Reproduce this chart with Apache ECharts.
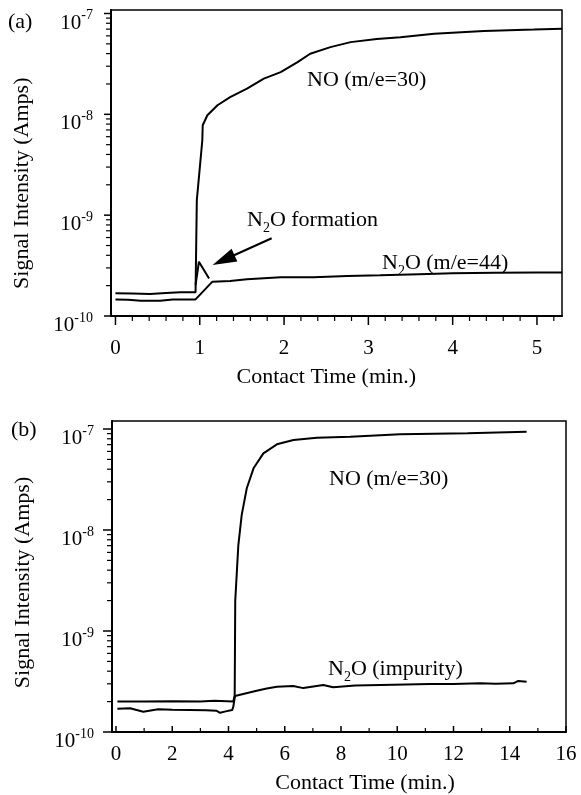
<!DOCTYPE html>
<html>
<head>
<meta charset="utf-8">
<script src="https://cdn.jsdelivr.net/npm/echarts@6/dist/echarts.min.js"></script>
<style>
html,body{margin:0;padding:0;background:#fff;}
#chart{width:581px;height:795px;}
</style>
</head>
<body>
<div id="chart"></div>
<script>
// ---------- Panel (a) data ----------
const timeA_NO = [0, 0.2, 0.41, 0.6, 0.77, 0.95, 0.965, 1.03, 1.035, 1.09, 1.21, 1.36, 1.56, 1.76, 1.96, 2.16, 2.31, 2.55, 2.79, 3.1, 3.38, 3.78, 4.37, 4.57, 4.96, 5.3];
const valA_NO  = [1.68e-10, 1.67e-10, 1.65e-10, 1.69e-10, 1.72e-10, 1.72e-10, 1.41e-9, 5.5e-9, 7.8e-9, 9.8e-9, 1.23e-8, 1.48e-8, 1.80e-8, 2.26e-8, 2.62e-8, 3.3e-8, 3.99e-8, 4.64e-8, 5.2e-8, 5.6e-8, 5.8e-8, 6.3e-8, 6.7e-8, 6.8e-8, 6.92e-8, 7.05e-8];

const timeA_N2O = [0, 0.15, 0.3, 0.53, 0.68, 0.95, 1.15, 1.36, 1.56, 1.96, 2.35, 2.75, 3.14, 3.6, 4.0, 4.5, 5.0, 5.3];
const valA_N2O  = [1.46e-10, 1.45e-10, 1.42e-10, 1.42e-10, 1.46e-10, 1.46e-10, 2.19e-10, 2.22e-10, 2.31e-10, 2.42e-10, 2.42e-10, 2.49e-10, 2.53e-10, 2.6e-10, 2.65e-10, 2.68e-10, 2.7e-10, 2.7e-10];

// N2O formation transient (spike)
const timeA_peak = [0.95, 0.99, 1.11];
const valA_peak  = [2.03e-10, 3.45e-10, 2.36e-10];

// arrow pointing to the N2O formation peak [tail, head]
const arrowA_time = [1.853, 1.282];
const arrowA_val  = [5.9e-10, 3.59e-10];

// ---------- Panel (b) data ----------
const timeB_NO = [0.05, 1, 2, 3, 3.5, 4.17, 4.22, 4.24, 4.35, 4.47, 4.65, 4.89, 5.24, 5.72, 6.31, 7.14, 8.33, 10.1, 12.5, 14.6];
const valB_NO  = [2.0e-10, 2.0e-10, 2.02e-10, 2.0e-10, 2.04e-10, 2.0e-10, 2.3e-10, 2.0e-9, 7.1e-9, 1.41e-8, 2.59e-8, 4.08e-8, 5.74e-8, 7.05e-8, 7.78e-8, 8.2e-8, 8.4e-8, 8.85e-8, 9.06e-8, 9.4e-8];

const timeB_N2O = [0.05, 0.5, 0.97, 1.5, 2, 2.63, 3.2, 3.58, 3.7, 3.9, 4.13, 4.17, 4.23, 4.29, 5.0, 5.36, 5.72, 6.3, 6.66, 7.37, 7.72, 8.5, 9.4, 10.3, 11.17, 12.0, 12.95, 13.5, 14.13, 14.3, 14.6];
const valB_N2O  = [1.70e-10, 1.72e-10, 1.59e-10, 1.68e-10, 1.66e-10, 1.65e-10, 1.64e-10, 1.62e-10, 1.55e-10, 1.6e-10, 1.65e-10, 1.77e-10, 2.27e-10, 2.32e-10, 2.56e-10, 2.70e-10, 2.81e-10, 2.85e-10, 2.72e-10, 2.92e-10, 2.78e-10, 2.88e-10, 2.92e-10, 2.95e-10, 2.98e-10, 2.98e-10, 3.03e-10, 3.0e-10, 3.03e-10, 3.2e-10, 3.15e-10];

// ---------- Ticks ----------
const yDecadeMin = 1e-10, yDecadeMax = 1e-7;
const yMajorTicks = [1e-10, 1e-9, 1e-8, 1e-7];
const yMinorTicks = [2e-10,3e-10,4e-10,5e-10,6e-10,7e-10,8e-10,9e-10,
                     2e-9,3e-9,4e-9,5e-9,6e-9,7e-9,8e-9,9e-9,
                     2e-8,3e-8,4e-8,5e-8,6e-8,7e-8,8e-8,9e-8];
const xMajorA = [0, 1, 2, 3, 4, 5];
const xMinorA = [0.2,0.4,0.6,0.8,1.2,1.4,1.6,1.8,2.2,2.4,2.6,2.8,3.2,3.4,3.6,3.8,4.2,4.4,4.6,4.8,5.2];
const xMajorB = [0, 2, 4, 6, 8, 10, 12, 14, 16];
const xMinorB = [1, 3, 5, 7, 9, 11, 13, 15];
const xTickMaxA = 5, xIntervalA = 1;
const xTickMaxB = 16, xIntervalB = 2;

// axis extents of the data grids
const xMinA = -0.053, xMaxA = 5.297, yMaxA = 1.083e-7;
const xMinB = -0.142, xMaxB = 16,    yMaxB = 1.2e-7;

const FONT = '"Liberation Serif", "Times New Roman", serif';
const BLACK = '#000';

function zip(t, v) { return t.map((x, i) => [x, v[i]]); }

const supRich = {
  b: {fontSize: 21, fontFamily: FONT, color: BLACK, lineHeight: 25, verticalAlign: 'bottom'},
  s: {fontSize: 14, fontFamily: FONT, color: BLACK, lineHeight: 14, verticalAlign: 'top'}
};
function supFormatter(value) {
  const e = Math.round(Math.log10(value));
  return '{b|10}{s|' + e + '}';
}

// main (data) axes: lines only
function xMain(grid, min, max) {
  return {type: 'value', gridIndex: grid, min: min, max: max,
    axisLine: {show: true, onZero: false, lineStyle: {color: BLACK, width: 2}},
    axisTick: {show: false}, axisLabel: {show: false}, splitLine: {show: false}};
}
function yMain(grid, max) {
  return {type: 'log', gridIndex: grid, min: 1e-10, max: max,
    axisLine: {show: true, onZero: false, lineStyle: {color: BLACK, width: 2}},
    axisTick: {show: false}, axisLabel: {show: false}, splitLine: {show: false}};
}
function xHidden(grid) { return {type: 'value', gridIndex: grid, min: 0, max: 1, show: false}; }
function yHidden(grid) { return {type: 'log', gridIndex: grid, min: yDecadeMin, max: yDecadeMax, show: false}; }

// label/name axes
function xLabels(grid, max, interval, labelMargin, nameGap, namePad) {
  return {
    type: 'value', gridIndex: grid, min: 0, max: max, interval: interval,
    name: 'Contact Time (min.)', nameLocation: 'middle', nameGap: nameGap,
    nameTextStyle: {fontSize: 22, fontFamily: FONT, color: BLACK, padding: namePad},
    axisLine: {show: false}, axisTick: {show: false}, minorTick: {show: false},
    axisLabel: {fontSize: 21, fontFamily: FONT, color: BLACK, margin: labelMargin},
    splitLine: {show: false}
  };
}
function yLabels(grid, namePad) {
  return {
    type: 'log', gridIndex: grid, min: yDecadeMin, max: yDecadeMax,
    name: 'Signal Intensity (Amps)', nameLocation: 'middle', nameGap: 78, nameRotate: 90,
    nameTextStyle: {fontSize: 22, fontFamily: FONT, color: BLACK, padding: namePad},
    axisLine: {show: false}, axisTick: {show: false}, minorTick: {show: false},
    axisLabel: {formatter: supFormatter, rich: supRich, margin: 18, padding: [15, 0, 0, 0]},
    splitLine: {show: false}
  };
}

const lineStyle = {color: BLACK, width: 2};
function lineSeries(name, x, y, data, extra) {
  return Object.assign({
    type: 'line', name: name, xAxisIndex: x, yAxisIndex: y, data: data,
    showSymbol: false, symbol: 'none', lineStyle: lineStyle, itemStyle: {color: BLACK},
    silent: true, animation: false, z: 5
  }, extra || {});
}

// tick marks drawn through the data axes' scales
// dir: 'down' | 'up' for x ticks, 'left' for y ticks
function tickSeries(axisIdx, data, dir, len, width) {
  return {
    type: 'custom', xAxisIndex: axisIdx, yAxisIndex: axisIdx, data: data,
    silent: true, animation: false, clip: false, z: 6,
    renderItem: function (params, api) {
      const p = api.coord([api.value(0), api.value(1)]);
      let x2 = p[0], y2 = p[1];
      if (dir === 'down') y2 = p[1] + len;
      else if (dir === 'up') y2 = p[1] - len;
      else x2 = p[0] - len;
      return {type: 'line', shape: {x1: p[0], y1: p[1], x2: x2, y2: y2},
              style: {stroke: BLACK, lineWidth: width}};
    }
  };
}
const atBottom = (xs) => xs.map(x => [x, 1e-10]);
const atLeft = (ys, xMin) => ys.map(y => [xMin, y]);

const subRich = {
  a: {fontSize: 22, fontFamily: FONT, color: BLACK, lineHeight: 26, verticalAlign: 'top'},
  s: {fontSize: 14, fontFamily: FONT, color: BLACK, lineHeight: 14, verticalAlign: 'bottom'}
};

const chart = echarts.init(document.getElementById('chart'), null, {renderer: 'canvas'});
const option = {
  animation: false,
  backgroundColor: '#fff',
  grid: [
    {left: 111, top: 10, width: 451, height: 306, show: true, borderColor: BLACK, borderWidth: 1.5, backgroundColor: 'transparent'},
    {left: 112, top: 421, width: 454, height: 311, show: true, borderColor: BLACK, borderWidth: 1.5, backgroundColor: 'transparent'},
    {left: 115.5, top: 10, width: 421.5, height: 306, show: false},
    {left: 116, top: 421, width: 450, height: 311, show: false},
    {left: 111, top: 13.5, width: 451, height: 302.5, show: false},
    {left: 112, top: 429, width: 454, height: 303, show: false}
  ],
  xAxis: [
    xMain(0, xMinA, xMaxA),
    xMain(1, xMinB, xMaxB),
    xLabels(2, xTickMaxA, xIntervalA, 22, 50, [0, 0, 0, 0]),
    xLabels(3, xTickMaxB, xIntervalB, 14, 42, [0, 0, 0, 48]),
    xHidden(4),
    xHidden(5)
  ],
  yAxis: [
    yMain(0, yMaxA),
    yMain(1, yMaxB),
    yHidden(2),
    yHidden(3),
    yLabels(4, [0, 37, 0, 0]),
    yLabels(5, [0, 4, 0, 0])
  ],
  series: [
    lineSeries('NO (m/e=30) a', 0, 0, zip(timeA_NO, valA_NO)),
    lineSeries('N2O (m/e=44) a', 0, 0, zip(timeA_N2O, valA_N2O), {
      markLine: {
        silent: true, animation: false,
        symbol: ['none', 'triangle'], symbolSize: [14, 24],
        lineStyle: {color: BLACK, width: 2, type: 'solid'},
        label: {show: false},
        data: [[{coord: [arrowA_time[0], arrowA_val[0]]}, {coord: [arrowA_time[1], arrowA_val[1]]}]]
      }
    }),
    lineSeries('N2O formation', 0, 0, zip(timeA_peak, valA_peak)),
    lineSeries('NO (m/e=30) b', 1, 1, zip(timeB_NO, valB_NO)),
    lineSeries('N2O (impurity) b', 1, 1, zip(timeB_N2O, valB_N2O)),
    // ticks, panel (a)
    tickSeries(0, atBottom(xMajorA), 'down', 9, 1.5),
    tickSeries(0, atBottom(xMinorA), 'down', 5, 1.2),
    tickSeries(0, atLeft(yMajorTicks, xMinA), 'left', 7, 1.5),
    tickSeries(0, atLeft(yMinorTicks, xMinA), 'left', 5, 1.2),
    // ticks, panel (b)
    tickSeries(1, atBottom(xMajorB), 'up', 6, 1.5),
    tickSeries(1, atBottom(xMinorB), 'up', 4, 1.2),
    tickSeries(1, atLeft(yMajorTicks, xMinB), 'left', 9, 1.5),
    tickSeries(1, atLeft(yMinorTicks, xMinB), 'left', 5, 1.2)
  ],
  graphic: [
    {type: 'text', x: 8, y: 22, style: {text: '(a)', font: '22px ' + FONT, fill: BLACK, verticalAlign: 'middle'}},
    {type: 'text', x: 11, y: 430, style: {text: '(b)', font: '22px ' + FONT, fill: BLACK, verticalAlign: 'middle'}},
    {type: 'text', x: 307, y: 80, style: {text: 'NO (m/e=30)', font: '22px ' + FONT, fill: BLACK, verticalAlign: 'middle'}},
    {type: 'text', x: 247, y: 222, style: {text: '{a|N}{s|2}{a|O formation}', verticalAlign: 'middle', rich: subRich}},
    {type: 'text', x: 382, y: 265, style: {text: '{a|N}{s|2}{a|O (m/e=44)}', verticalAlign: 'middle', rich: subRich}},
    {type: 'text', x: 329, y: 479, style: {text: 'NO (m/e=30)', font: '22px ' + FONT, fill: BLACK, verticalAlign: 'middle'}},
    {type: 'text', x: 328, y: 671, style: {text: '{a|N}{s|2}{a|O (impurity)}', verticalAlign: 'middle', rich: subRich}}
  ]
};
chart.setOption(option);
</script>
</body>
</html>
